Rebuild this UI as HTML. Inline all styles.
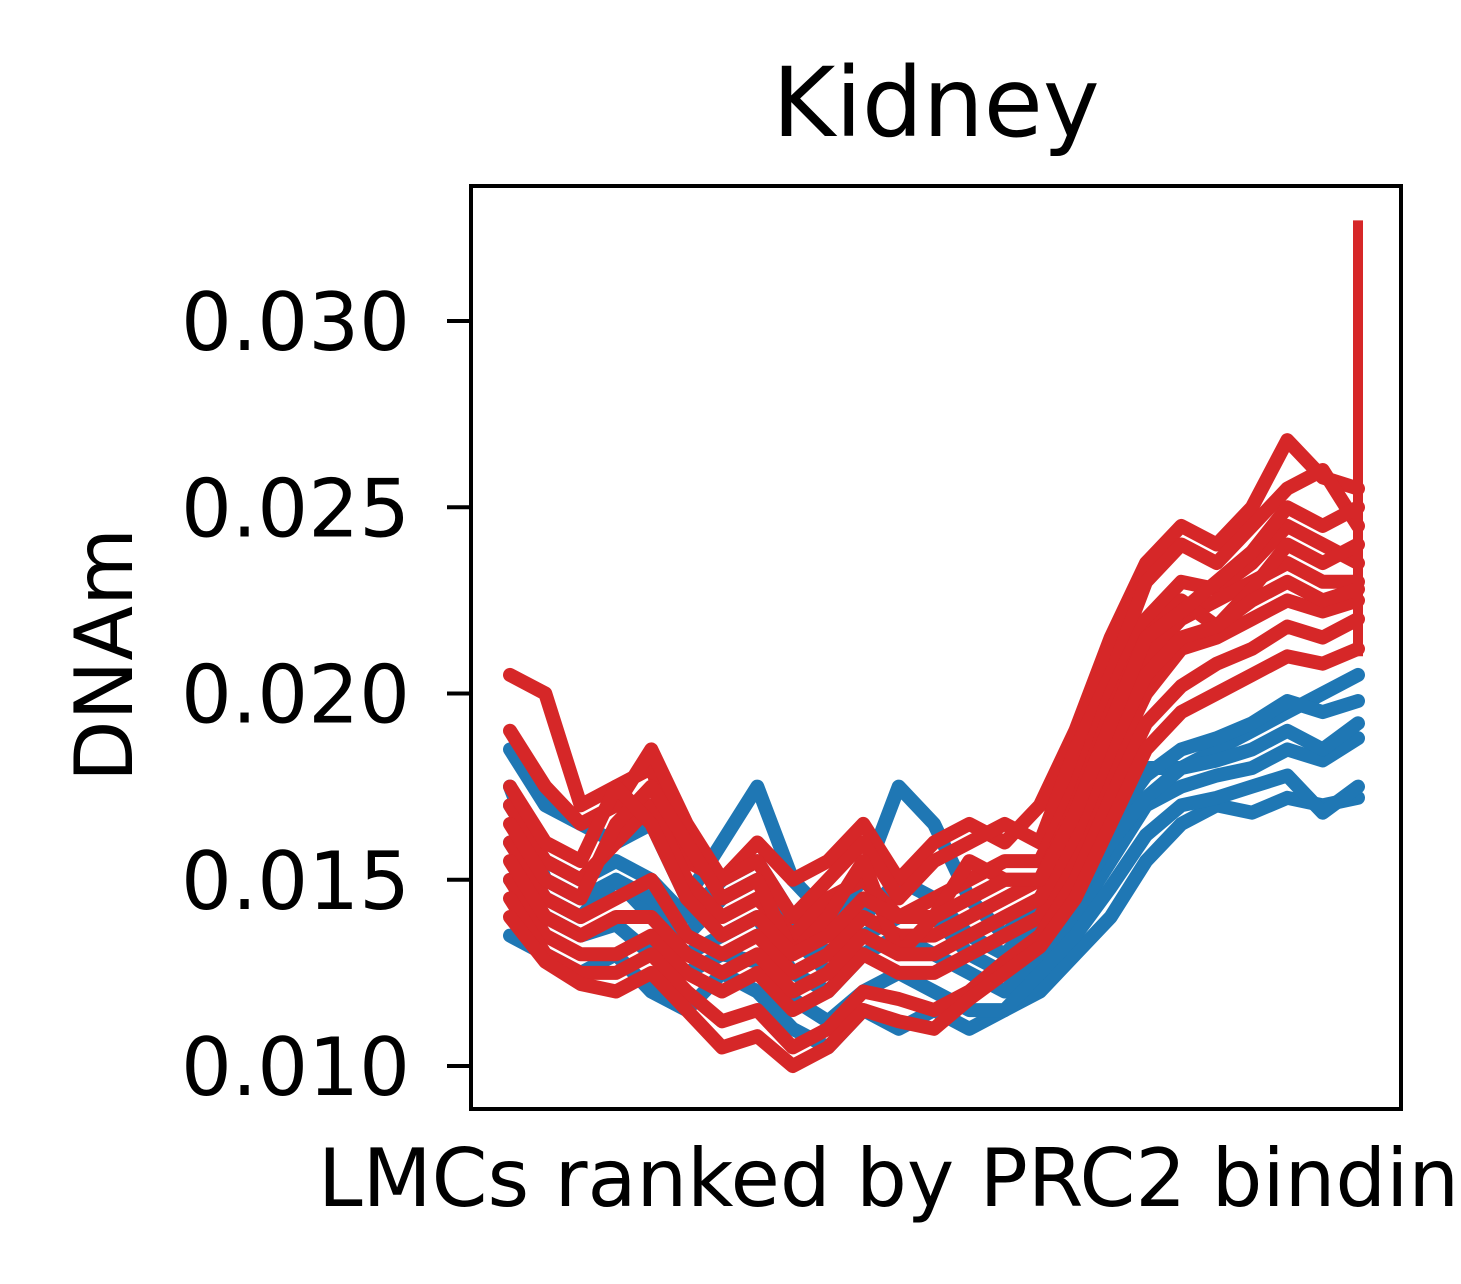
<!DOCTYPE html>
<html>
<head>
<meta charset="utf-8">
<style>
  html,body{margin:0;padding:0;background:#fff;}
  body{width:1461px;height:1284px;overflow:hidden;}
  svg{display:block;}
  text{font-family:"DejaVu Sans","Liberation Sans",sans-serif;fill:#000;}
</style>
</head>
<body>
<svg id="chart" width="1461" height="1284" viewBox="0 0 1461 1284" xmlns="http://www.w3.org/2000/svg">
  <text x="936" y="136" font-size="96" text-anchor="middle">Kidney</text>
  <clipPath id="plotclip"><rect x="471" y="186" width="930" height="923"/></clipPath>
  <g id="series" clip-path="url(#plotclip)"></g>
  <rect x="471" y="186" width="930" height="923" fill="none" stroke="#000" stroke-width="4"/>
  <g id="yticks"></g>
  <text transform="translate(132,655) rotate(-90)" font-size="80" text-anchor="middle">DNAm</text>
  <text x="318" y="1206" font-size="80">LMCs ranked by PRC2 binding</text>
</svg>
<script>
const yTicks = [0.010, 0.015, 0.020, 0.025, 0.030];
const yTickLabels = ["0.010", "0.015", "0.020", "0.025", "0.030"];
const blueSeries = [
  [0.0185,0.0170,0.0165,0.0160,0.0165,0.0145,0.0160,0.0175,0.0150,0.0140,0.0150,0.0175,0.0165,0.0145,0.0135,0.0145,0.0155,0.0170,0.0180,0.0180,0.0185,0.0190,0.0195,0.0200,0.0205],
  [0.0135,0.0130,0.0125,0.0130,0.0120,0.0115,0.0125,0.0120,0.0110,0.0105,0.0115,0.0110,0.0115,0.0110,0.0115,0.0120,0.0130,0.0140,0.0155,0.0165,0.0170,0.0168,0.0172,0.0170,0.0172],
  [0.0160,0.0145,0.0140,0.0150,0.0140,0.0130,0.0135,0.0140,0.0125,0.0120,0.0130,0.0135,0.0130,0.0125,0.0120,0.0130,0.0140,0.0155,0.0170,0.0175,0.0178,0.0180,0.0185,0.0182,0.0188],
  [0.0170,0.0155,0.0150,0.0155,0.0150,0.0140,0.0150,0.0155,0.0140,0.0130,0.0140,0.0150,0.0145,0.0135,0.0130,0.0140,0.0150,0.0165,0.0178,0.0185,0.0188,0.0192,0.0198,0.0195,0.0198],
  [0.0150,0.0140,0.0135,0.0138,0.0130,0.0125,0.0130,0.0128,0.0118,0.0112,0.0120,0.0125,0.0120,0.0115,0.0115,0.0125,0.0135,0.0148,0.0162,0.0170,0.0172,0.0175,0.0178,0.0168,0.0175],
  [0.0175,0.0150,0.0145,0.0150,0.0145,0.0135,0.0145,0.0150,0.0135,0.0125,0.0135,0.0140,0.0140,0.0130,0.0125,0.0135,0.0145,0.0160,0.0172,0.0180,0.0182,0.0185,0.0190,0.0185,0.0192]
];
const redSeries = [
  [0.0205,0.0200,0.0170,0.0175,0.0180,0.0155,0.0150,0.0160,0.0150,0.0155,0.0165,0.0150,0.0160,0.0165,0.0160,0.0170,0.0190,0.0215,0.0235,0.0245,0.0240,0.0250,0.0268,0.0258,0.0255],
  [0.0190,0.0175,0.0165,0.0170,0.0185,0.0165,0.0150,0.0155,0.0140,0.0150,0.0160,0.0145,0.0155,0.0160,0.0165,0.0160,0.0185,0.0205,0.0230,0.0240,0.0235,0.0245,0.0255,0.0260,0.0245],
  [0.0170,0.0155,0.0150,0.0160,0.0170,0.0150,0.0140,0.0145,0.0135,0.0145,0.0150,0.0140,0.0145,0.0150,0.0155,0.0155,0.0175,0.0200,0.0220,0.0230,0.0228,0.0235,0.0245,0.0240,0.0235],
  [0.0160,0.0145,0.0140,0.0145,0.0150,0.0135,0.0130,0.0135,0.0125,0.0130,0.0140,0.0135,0.0135,0.0140,0.0145,0.0150,0.0165,0.0190,0.0210,0.0220,0.0225,0.0230,0.0235,0.0230,0.0230],
  [0.0150,0.0135,0.0130,0.0130,0.0135,0.0125,0.0120,0.0125,0.0115,0.0120,0.0130,0.0125,0.0125,0.0130,0.0135,0.0140,0.0158,0.0180,0.0200,0.0212,0.0215,0.0220,0.0225,0.0222,0.0225],
  [0.0145,0.0130,0.0125,0.0125,0.0130,0.0120,0.0112,0.0115,0.0105,0.0110,0.0120,0.0118,0.0115,0.0120,0.0128,0.0135,0.0150,0.0172,0.0192,0.0202,0.0208,0.0212,0.0218,0.0215,0.0220],
  [0.0140,0.0128,0.0122,0.0120,0.0125,0.0115,0.0105,0.0108,0.0100,0.0105,0.0115,0.0112,0.0110,0.0118,0.0125,0.0132,0.0145,0.0165,0.0185,0.0195,0.0200,0.0205,0.0210,0.0208,0.0212],
  [0.0165,0.0150,0.0145,0.0165,0.0175,0.0160,0.0145,0.0150,0.0130,0.0140,0.0155,0.0130,0.0140,0.0155,0.0150,0.0150,0.0170,0.0195,0.0215,0.0225,0.0218,0.0228,0.0240,0.0235,0.0240],
  [0.0155,0.0140,0.0135,0.0140,0.0140,0.0130,0.0125,0.0130,0.0120,0.0125,0.0135,0.0130,0.0130,0.0135,0.0140,0.0145,0.0162,0.0185,0.0205,0.0215,0.0218,0.0225,0.0230,0.0225,0.0228],
  [0.0175,0.0160,0.0155,0.0175,0.0165,0.0145,0.0135,0.0140,0.0130,0.0135,0.0145,0.0140,0.0140,0.0145,0.0150,0.0150,0.0168,0.0192,0.0215,0.0222,0.0230,0.0238,0.0250,0.0245,0.0250]
];
const redSpike = [0.0210, 0.0327];

const NS = "http://www.w3.org/2000/svg";
const nPts = blueSeries[0].length;
function xScale(i){ return 510 + i * (1358 - 510) / (nPts - 1); }
function yScale(v){ return 1066 - (v - 0.010) / 0.005 * 186.25; }

const g = document.getElementById("series");
function drawLine(vals, color, name){
  const p = document.createElementNS(NS, "path");
  let d = "";
  vals.forEach((v, i) => { d += (i ? "L" : "M") + xScale(i).toFixed(1) + "," + yScale(v).toFixed(1); });
  p.setAttribute("d", d);
  p.setAttribute("fill", "none");
  p.setAttribute("stroke", color);
  p.setAttribute("stroke-width", "14");
  p.setAttribute("stroke-linejoin", "round");
  p.setAttribute("stroke-linecap", "round");
  
  
  g.appendChild(p);
}
blueSeries.forEach((s, k) => drawLine(s, "#1f77b4", "blue-line-" + (k + 1)));
redSeries.forEach((s, k) => drawLine(s, "#d62728", "red-line-" + (k + 1)));

const sp = document.createElementNS(NS, "line");
sp.setAttribute("x1", xScale(nPts - 1)); sp.setAttribute("x2", xScale(nPts - 1));
sp.setAttribute("y1", yScale(redSpike[0])); sp.setAttribute("y2", yScale(redSpike[1]));
sp.setAttribute("stroke", "#d62728"); sp.setAttribute("stroke-width", "10");


g.appendChild(sp);

const yt = document.getElementById("yticks");
yTicks.forEach((t, k) => {
  const y = yScale(t);
  const l = document.createElementNS(NS, "line");
  l.setAttribute("x1", 447); l.setAttribute("x2", 471);
  l.setAttribute("y1", y); l.setAttribute("y2", y);
  l.setAttribute("stroke", "#000"); l.setAttribute("stroke-width", "4");
  
  
  yt.appendChild(l);
  const tx = document.createElementNS(NS, "text");
  tx.setAttribute("x", 410); tx.setAttribute("y", y + 29);
  tx.setAttribute("font-size", "80"); tx.setAttribute("text-anchor", "end");
  tx.textContent = yTickLabels[k];
  
  
  yt.appendChild(tx);
});
</script>
</body>
</html>
